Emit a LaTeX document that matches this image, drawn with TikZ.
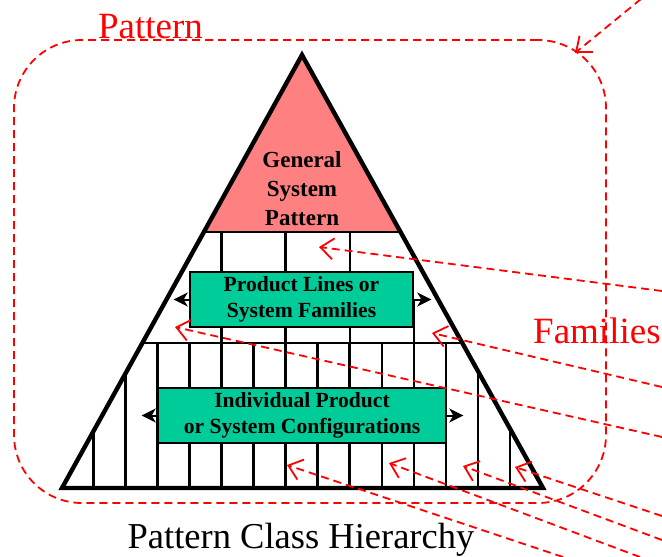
\documentclass[tikz,border=0pt]{standalone}
\usepackage{fontspec}
\setmainfont{Liberation Serif}
\usetikzlibrary{arrows.meta}
\definecolor{patternpink}{HTML}{FF8080}
\definecolor{familygreen}{HTML}{00CC99}
\begin{document}
\begin{tikzpicture}[x=1pt,y=-1pt,
    rung/.style={line width=2.6pt},
    levelbox/.style={draw,line width=2.6pt,fill=familygreen,inner sep=0pt,align=center,
      font=\bfseries\fontsize{21.6}{25.5}\selectfont},
    sidearrow/.style={line width=2pt,-{Stealth[length=14pt,width=14pt,inset=4pt]}},
    redlink/.style={red,line width=1.8pt,dash pattern=on 8pt off 5pt,
      -{Straight Barb[length=13pt,width=21pt]}},
    redtext/.style={red,inner sep=0pt,font=\fontsize{37}{40}\selectfont}]
        \useasboundingbox (0,0) rectangle (662,557);
        \node[draw,red,line width=1.8pt,dash pattern=on 8pt off 5pt,rounded corners=68pt,
          minimum width=592pt,minimum height=463pt] (patternbox) at (310,271.5) {};
        \node[redtext,anchor=base] (patternlabel) at (150.5,38) {Pattern};
        \node[redtext,anchor=base west] (familieslabel) at (533,343) {Families};
        \begin{scope}
          \clip (302,55) -- (62,488) -- (543,488) -- cycle;
          \fill[patternpink] (0,0) rectangle (662,232);
          \draw[rung] (0,232) -- (662,232);
          \draw[rung] (0,343) -- (662,343);
          \draw[rung] (221.6,232) -- (221.6,343);
          \draw[rung] (285.7,232) -- (285.7,343);
          \draw[rung] (349.8,232) -- (349.8,343);
          \draw[rung] (413.9,300) -- (413.9,343);
          \draw[rung] (93.3,343) -- (93.3,488);
          \draw[rung] (125.4,343) -- (125.4,488);
          \draw[rung] (157.4,343) -- (157.4,488);
          \draw[rung] (189.5,343) -- (189.5,488);
          \draw[rung] (221.5,343) -- (221.5,488);
          \draw[rung] (253.6,343) -- (253.6,488);
          \draw[rung] (285.6,343) -- (285.6,488);
          \draw[rung] (317.7,343) -- (317.7,488);
          \draw[rung] (349.7,343) -- (349.7,488);
          \draw[rung] (381.8,343) -- (381.8,488);
          \draw[rung] (413.8,343) -- (413.8,488);
          \draw[rung] (445.9,343) -- (445.9,488);
          \draw[rung] (477.9,343) -- (477.9,488);
          \draw[rung] (510.0,343) -- (510.0,488);
        \end{scope}
        \draw[line width=4.4pt] (302,55) -- (62,488) -- (543,488) -- cycle;
        \node[font=\bfseries\fontsize{23}{29}\selectfont,align=center,inner sep=0pt]
          (general) at (302,189) {General\\System\\Pattern};
        \node[levelbox,minimum width=223pt,minimum height=55pt] (families) at (301.5,299.5)
          {Product Lines or\\System Families};
        \node[levelbox,minimum width=288pt,minimum height=55pt] (configs) at (302,415.5)
          {Individual Product\\or System Configurations};
        \draw[sidearrow] (families.west) -- ++(-15,0);
        \draw[sidearrow] (families.east) -- ++(17,0);
        \draw[sidearrow] (configs.west) -- ++(-15,0);
        \draw[sidearrow] (configs.east) -- ++(16,0);
        \node[inner sep=0pt,anchor=base,font=\fontsize{36.5}{40}\selectfont] (title) at (301,548)
          {Pattern Class Hierarchy};
        \coordinate (in0) at (641,-1);
        \coordinate (in1) at (662,291);
        \coordinate (in2) at (662,437);
        \coordinate (in3) at (662,387);
        \coordinate (in4) at (563,557);
        \coordinate (in5) at (640,557);
        \coordinate (in6) at (662,540);
        \coordinate (in7) at (662,516);
        \coordinate (cell0) at (575,53);
        \coordinate (cell1) at (319,247);
        \coordinate (cell2) at (175,327);
        \coordinate (cell3) at (432,333);
        \coordinate (cell4) at (287,465);
        \coordinate (cell5) at (389,463);
        \coordinate (cell6) at (463,466);
        \coordinate (cell7) at (515,467);
        \draw[redlink] (in0) -- (cell0);
        \draw[redlink] (in1) -- (cell1);
        \draw[redlink] (in2) -- (cell2);
        \draw[redlink] (in3) -- (cell3);
        \draw[redlink] (in4) -- (cell4);
        \draw[redlink] (in5) -- (cell5);
        \draw[redlink] (in6) -- (cell6);
        \draw[redlink] (in7) -- (cell7);
      \end{tikzpicture}
\end{document}
